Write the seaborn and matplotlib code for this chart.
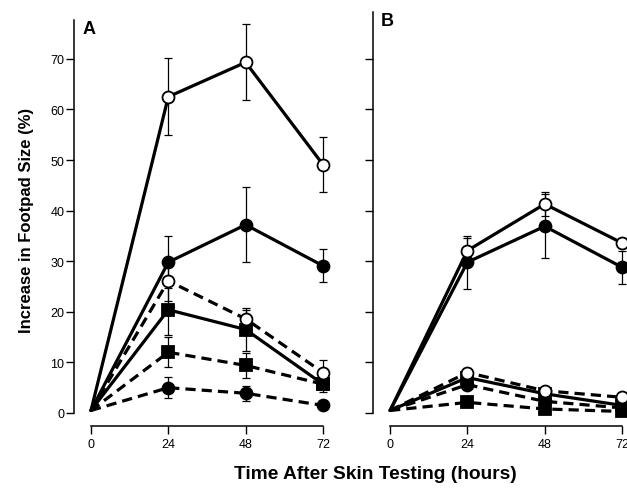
import matplotlib
matplotlib.use("Agg")
import matplotlib.pyplot as plt
import seaborn as sns
import numpy as np

hours = [0, 24, 48, 72]
x_ticks = [0, 24, 48, 72]
y_ticks = [0, 10, 20, 30, 40, 50, 60, 70]

# Panel A
a_open_solid = [0.5, 62.5, 69.3, 49.1]
a_open_solid_err = [0, 7.6, 7.5, 5.5]
a_fcirc_solid = [0.5, 29.8, 37.2, 29.1]
a_fcirc_solid_err = [0, 5.1, 7.4, 3.3]
a_open_dash = [0.5, 26.1, 18.6, 8.0]
a_open_dash_err = [0, 4.0, 1.7, 2.5]
a_sq_solid = [0.5, 20.4, 16.5, 5.7]
a_sq_solid_err = [0, 4.9, 4.2, 1.6]
a_sq_dash = [0.5, 12.0, 9.4, 5.7]
a_sq_dash_err = [0, 3.0, 2.5, 1.0]
a_fcirc_dash = [0.5, 5.0, 3.9, 1.5]
a_fcirc_dash_err = [0, 2.1, 1.5, 0.5]

# Panel B
b_open_solid = [0.5, 32.1, 41.3, 33.6]
b_open_solid_err = [0, 2.5, 2.3, 1.0]
b_fcirc_solid = [0.5, 29.8, 36.9, 28.8]
b_fcirc_solid_err = [0, 5.2, 6.3, 3.3]
b_open_dash = [0.5, 8.0, 4.4, 3.1]
b_open_dash_err = [0, 0.8, 0.8, 0.8]
b_sq_solid = [0.5, 7.0, 3.8, 1.5]
b_sq_solid_err = [0, 1.0, 1.0, 1.0]
b_fcirc_dash = [0.5, 5.6, 2.3, 1.0]
b_fcirc_dash_err = [0, 0.8, 0.8, 0.5]
b_sq_dash = [0.5, 2.1, 0.8, 0.3]
b_sq_dash_err = [0, 0.5, 0.5, 0.3]

sns.set_style("ticks")
plt.rcParams['font.family'] = ['Liberation Sans', 'DejaVu Sans']
plt.rcParams['text.color'] = 'black'

W, H = 627, 489
fig = plt.figure(figsize=(W / 100, H / 100), dpi=100)

y0_px = 414.0
px_per_unit = 5.06
ylo, yhi = -2.6, 79.2
bottom = (H - (y0_px - ylo * px_per_unit)) / H
height = (yhi - ylo) * px_per_unit / H
xlo, xhi = -5.3, 74.0
axw = (xhi - xlo) * 3.222 / W

axA = fig.add_axes([73.9 / W, bottom, axw, height])
axB = fig.add_axes([373.0 / W, bottom, axw, height])

DASH = (0, (3.2, 1.9))
LW = 2.3


def series(ax, vals, errs, marker, filled, dashed):
    ax.errorbar(hours[1:], vals[1:], yerr=errs[1:], fmt='none', ecolor='black',
                elinewidth=0.9, capsize=2.8, capthick=0.9, zorder=1.5)
    sns.lineplot(x=hours, y=vals, ax=ax, color='black', linewidth=LW,
                 linestyle=DASH if dashed else '-', marker=marker,
                 markersize=8.6 if marker == 'o' else 8.0,
                 markerfacecolor='black' if filled else 'white',
                 markeredgecolor='black', markeredgewidth=1.3,
                 markevery=[1, 2, 3], errorbar=None, zorder=2, clip_on=False)


seriesA = [
    (a_fcirc_dash, a_fcirc_dash_err, 'o', True, True),
    (a_sq_dash, a_sq_dash_err, 's', True, True),
    (a_sq_solid, a_sq_solid_err, 's', True, False),
    (a_open_dash, a_open_dash_err, 'o', False, True),
    (a_fcirc_solid, a_fcirc_solid_err, 'o', True, False),
    (a_open_solid, a_open_solid_err, 'o', False, False),
]
seriesB = [
    (b_sq_dash, b_sq_dash_err, 's', True, True),
    (b_fcirc_dash, b_fcirc_dash_err, 'o', True, True),
    (b_sq_solid, b_sq_solid_err, 's', True, False),
    (b_open_dash, b_open_dash_err, 'o', False, True),
    (b_fcirc_solid, b_fcirc_solid_err, 'o', True, False),
    (b_open_solid, b_open_solid_err, 'o', False, False),
]

for ax, ser in ((axA, seriesA), (axB, seriesB)):
    for s in ser:
        series(ax, *s)
    ax.set_xlim(xlo, xhi)
    ax.set_ylim(ylo, yhi)
    ax.set_xticks(x_ticks)
    ax.set_xticklabels([str(t) for t in x_ticks])
    ax.set_yticks(y_ticks)
    for side in ('top', 'right'):
        ax.spines[side].set_visible(False)
    ax.spines['left'].set_linewidth(1.1)
    ax.spines['bottom'].set_linewidth(1.1)
    ax.spines['left'].set_color('black')
    ax.spines['bottom'].set_color('black')
    ax.spines['bottom'].set_bounds(0, 72)
    ax.tick_params(axis='both', direction='out', length=5.8, width=1.0,
                   labelsize=9, colors='black')
    ax.tick_params(axis='y', pad=1)
    ax.tick_params(axis='x', pad=3)
    ax.set_xlabel('')
    ax.set_ylabel('')
    ax.patch.set_alpha(0)

axA.spines['left'].set_bounds(0, 77.7)
axB.spines['left'].set_bounds(0, yhi)
axB.set_yticklabels([])

fig.text(89 / W, 1 - 29 / H, 'A', fontsize=13, fontweight='bold', ha='center', va='center', color='black')
fig.text(387 / W, 1 - 22 / H, 'B', fontsize=13, fontweight='bold', ha='center', va='center', color='black')

fig.text(27 / W, 1 - 220 / H, 'Increase in Footpad Size (%)', rotation=90,
         fontsize=12, fontweight='bold', ha='center', va='center', color='black')
fig.text(375 / W, 1 - 475 / H, 'Time After Skin Testing (hours)',
         fontsize=13.8, fontweight='bold', ha='center', va='center', color='black')

fig.savefig('out.png', dpi=100)
